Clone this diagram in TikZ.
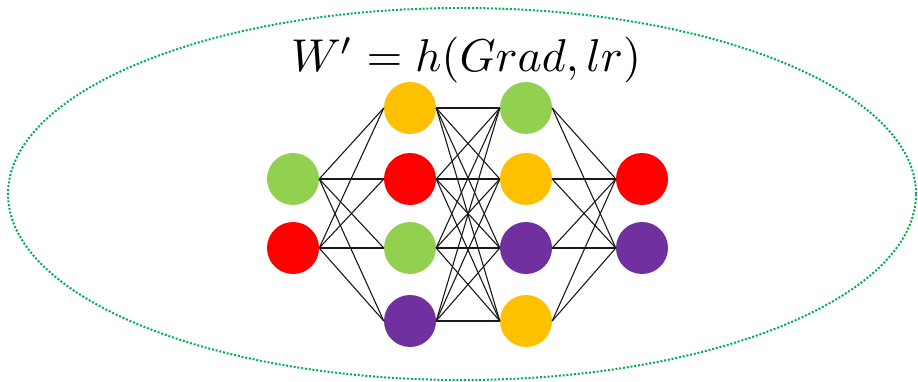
\documentclass[tikz,border=0pt]{standalone}
\usepackage{graphicx}
\usepackage{amsmath}
\usetikzlibrary{shapes.geometric}
\definecolor{cgreen}{HTML}{92D050}
\definecolor{cred}{HTML}{FF0000}
\definecolor{cyellow}{HTML}{FFC000}
\definecolor{cpurple}{HTML}{7030A0}
\definecolor{cdot}{HTML}{00B050}
\begin{document}
\begin{tikzpicture}[x=1pt,y=-1pt,
  neuron/.style={circle,minimum size=52pt,inner sep=0pt,draw=none},
  wire/.style={draw=black!90,line width=1.1pt}]
\useasboundingbox (0,0) rectangle (918,382);
\node[draw=cdot,dash pattern=on 2pt off 1.8pt,line width=2pt,ellipse,minimum width=908pt,minimum height=372pt,inner sep=0pt] (shell) at (462,194) {};
\node[anchor=base,inner sep=0pt] (title) at (466,72) {\scalebox{4.6}{$W' = h(Grad, lr)$}};
% layer 1
\node[neuron,fill=cgreen] (a1) at (293,179) {};
\node[neuron,fill=cred] (a2) at (293,248) {};
% layer 2
\node[neuron,fill=cyellow] (b1) at (410,108) {};
\node[neuron,fill=cred] (b2) at (410,179) {};
\node[neuron,fill=cgreen] (b3) at (410,248) {};
\node[neuron,fill=cpurple] (b4) at (410,321) {};
% layer 3
\node[neuron,fill=cgreen] (c1) at (526,108) {};
\node[neuron,fill=cyellow] (c2) at (526,179) {};
\node[neuron,fill=cpurple] (c3) at (526,248) {};
\node[neuron,fill=cyellow] (c4) at (526,321) {};
% layer 4
\node[neuron,fill=cred] (d1) at (642,179) {};
\node[neuron,fill=cpurple] (d2) at (642,248) {};
\foreach \i in {1,2} \foreach \j in {1,2,3,4} \draw[wire] (a\i.east) -- (b\j.west);
\foreach \i in {1,2,3,4} \foreach \j in {1,2,3,4} \draw[wire] (b\i.east) -- (c\j.west);
\foreach \i in {1,2,3,4} \foreach \j in {1,2} \draw[wire] (c\i.east) -- (d\j.west);
\end{tikzpicture}
\end{document}
